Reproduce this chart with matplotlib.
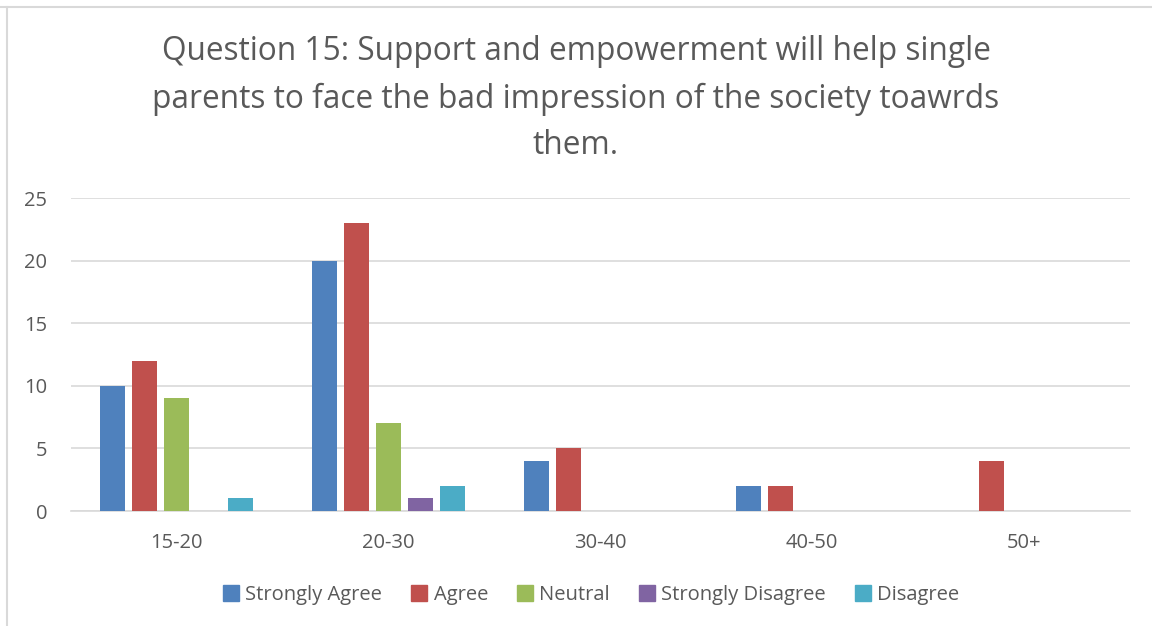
import numpy as np
import matplotlib.pyplot as plt
from matplotlib.lines import Line2D

plt.rcParams['font.family'] = ['Open Sans', 'DejaVu Sans']

groups = ["15-20", "20-30", "30-40", "40-50", "50+"]
series = ["Strongly Agree", "Agree", "Neutral", "Strongly Disagree", "Disagree"]
colors = ["#4F81BD", "#C0504D", "#9BBB59", "#8064A2", "#4BACC6"]

strongly_agree = [10, 20, 4, 2, 0]
agree = [12, 23, 5, 2, 4]
neutral = [9, 7, 0, 0, 0]
strongly_disagree = [0, 1, 0, 0, 0]
disagree = [1, 2, 0, 0, 0]
values = [strongly_agree, agree, neutral, strongly_disagree, disagree]

txt = "#595959"

fig = plt.figure(figsize=(11.52, 6.26), dpi=100)
ax = fig.add_axes([0.0616, 0.1837, 0.919, 0.5])

x = np.arange(len(groups))
w = 0.118
pitch = 0.151
for i, (name, vals, c) in enumerate(zip(series, values, colors)):
    ax.bar(x + (i - 2) * pitch, vals, w, color=c, label=name, zorder=3)

ax.set_xlim(-0.5, 4.5)
ax.set_ylim(0, 25)
ax.set_yticks(range(0, 26, 5))
ax.set_xticks(x)
ax.set_xticklabels(groups)
ax.grid(axis="y", color="#D9D9D9", linewidth=1.2, zorder=0)
for s in ["top", "right", "left"]:
    ax.spines[s].set_visible(False)
ax.spines["bottom"].set_color("#D9D9D9")
ax.spines["bottom"].set_linewidth(1.2)
ax.tick_params(length=0, labelsize=14.5, colors=txt)
ax.tick_params(axis="x", pad=16)
ax.tick_params(axis="y", pad=17)

fig.text(0.5, 0.842,
         "Question 15: Support and empowerment will help single\n"
         "parents to face the bad impression of the society toawrds\n"
         "them.",
         ha="center", va="center", fontsize=22.8, color=txt, linespacing=1.55)

handles = [Line2D([], [], marker="s", linestyle="None", markersize=11,
                  color=c) for c in colors]
fig.legend(handles, series, loc="center", bbox_to_anchor=(0.508, 0.05),
           ncol=5, frameon=False, fontsize=14.5, labelcolor=txt,
           handletextpad=-0.3, columnspacing=0.85)

# frame edges of the chart box
fig.add_artist(Line2D([0, 1], [0.989, 0.989], color="#D9D9D9", linewidth=1.5))
fig.add_artist(Line2D([0.0065, 0.0065], [0, 0.989], color="#D9D9D9", linewidth=1.5))

fig.savefig("out.png", dpi=100)
